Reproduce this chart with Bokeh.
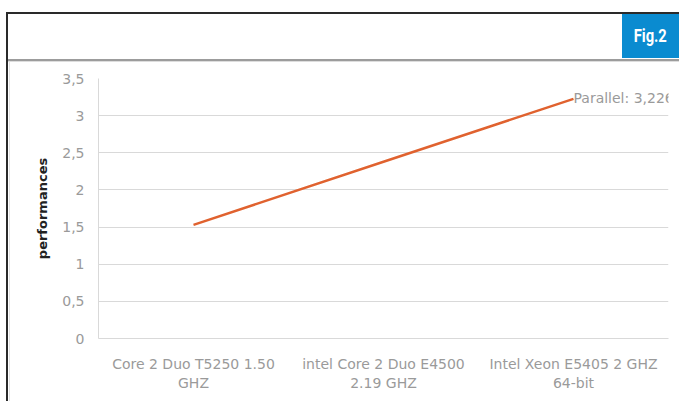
from bokeh.plotting import figure
from bokeh.models import FactorRange, Range1d, FixedTicker, LabelSet, ColumnDataSource, Div
from bokeh.core.properties import value
from bokeh.layouts import column, row
from bokeh.embed import file_html
from bokeh.resources import INLINE

categories = ["Core 2 Duo T5250 1.50\nGHZ", "intel Core 2 Duo E4500\n2.19 GHZ", "Intel Xeon E5405 2 GHZ\n64-bit"]
values = [1.53, 2.38, 3.226]
series_name = "Parallel"
y_ticks = [0, 0.5, 1, 1.5, 2, 2.5, 3, 3.5]
y_tick_labels = ["0", "0,5", "1", "1,5", "2", "2,5", "3", "3,5"]
fig_label = "Fig.2"
y_title = "performances"

FONT = "DejaVu Sans"
GRAY = "#9a9a9a"

# header (HTML)
header = Div(width=679, height=62, styles={"margin": "0", "padding": "0"}, text=f"""
<div style="position:relative;width:679px;height:62px;margin:0;padding:0;background:white;">
  <div style="position:absolute;left:6px;top:12px;width:673px;height:2px;background:#2a2a2a;"></div>
  <div style="position:absolute;left:6px;top:12px;width:2px;height:50px;background:#2a2a2a;"></div>
  <div style="position:absolute;left:8px;top:59px;width:671px;height:2px;background:#9c9c9c;"></div>
  <div style="position:absolute;left:8px;top:61px;width:671px;height:1px;background:#dddddd;"></div>
  <div style="position:absolute;left:622px;top:14px;width:57px;height:44px;background:#0a8bd0;
              color:white;font-family:'Liberation Sans Narrow','Roboto',sans-serif;font-weight:bold;
              font-size:18px;line-height:44px;text-align:center;">
    <span style="display:inline-block;transform:scaleX(0.82);">{fig_label}</span></div>
</div>""")

strip = Div(width=12, height=339, styles={"margin": "0", "padding": "0"}, text="""
<div style="position:relative;width:12px;height:339px;margin:0;padding:0;background:white;">
  <div style="position:absolute;left:6px;top:0px;width:2px;height:339px;background:#2a2a2a;"></div>
  <div style="position:absolute;left:9px;top:0px;width:1px;height:339px;background:#e2e2e2;"></div>
</div>""")

p = figure(width=667, height=339, x_range=FactorRange(*categories, range_padding=0),
           y_range=Range1d(0, 3.5), output_backend="svg", toolbar_location=None,
           min_border_left=86, min_border_right=11, min_border_top=16, min_border_bottom=63)
p.background_fill_color = "white"
p.border_fill_color = "white"
p.outline_line_color = None

p.line(categories, values, line_color="#e0622f", line_width=2.5)

lab_src = ColumnDataSource(dict(x=[categories[-1]], y=[values[-1]],
                                t=[f"{series_name}: {str(values[-1]).replace('.', ',')}"]))
p.add_layout(LabelSet(x="x", y="y", text="t", source=lab_src,
                      text_font=value(FONT), text_font_size=value("14px"), text_color=GRAY,
                      text_baseline="middle", text_align="left", y_offset=1))

# axes
p.yaxis.ticker = FixedTicker(ticks=y_ticks)
p.yaxis.major_label_overrides = {t: l for t, l in zip(y_ticks, y_tick_labels)}
p.yaxis.axis_label = y_title
p.yaxis.axis_label_text_font = FONT
p.yaxis.axis_label_text_font_style = "bold"
p.yaxis.axis_label_text_font_size = "13px"
p.yaxis.axis_label_text_color = "#222222"
p.yaxis.axis_label_standoff = 9
for ax in (p.xaxis, p.yaxis):
    ax.major_tick_line_color = None
    ax.minor_tick_line_color = None
    ax.axis_line_color = "#d9d9d9"
    ax.major_label_text_font = FONT
    ax.major_label_text_font_size = "14px"
    ax.major_label_text_color = GRAY
p.yaxis.major_label_standoff = 8
p.xaxis.major_label_standoff = 11

p.xgrid.grid_line_color = None
p.ygrid.grid_line_color = "#d9d9d9"
p.ygrid.grid_line_width = 1

layout = column(header, row(strip, p, spacing=0), spacing=0)
open("out.html", "w").write(file_html(layout, INLINE))
